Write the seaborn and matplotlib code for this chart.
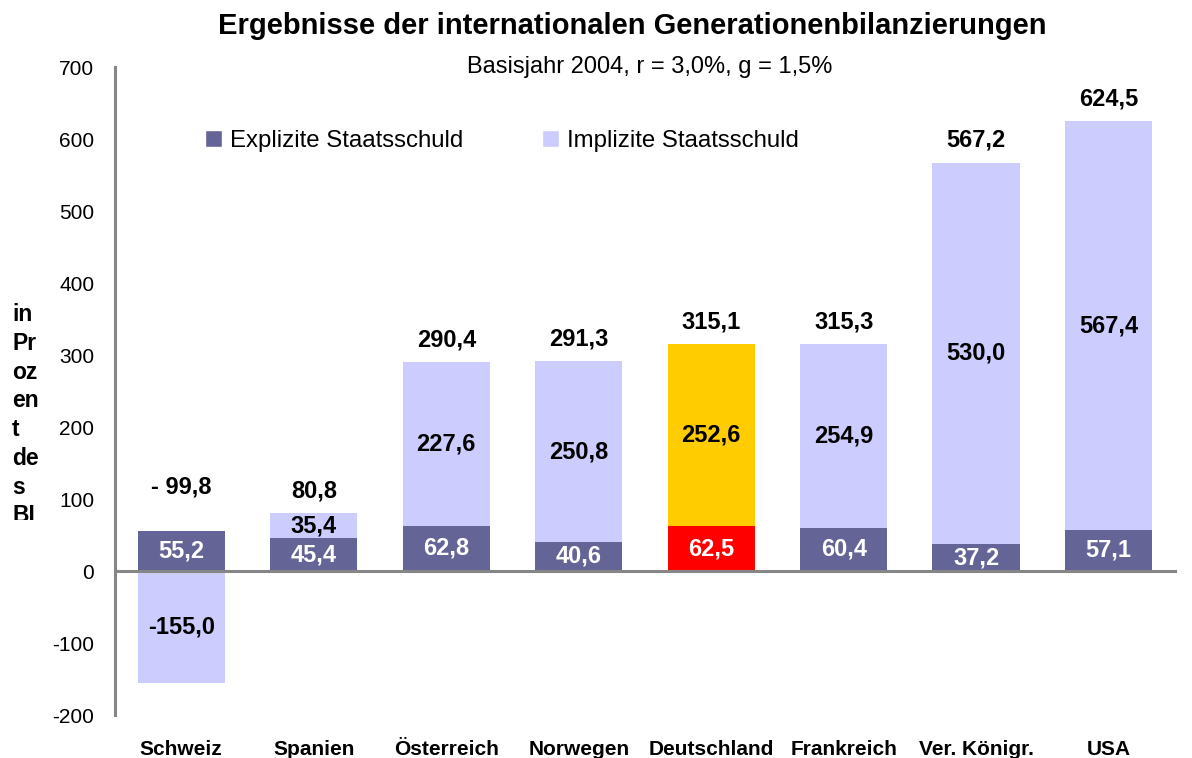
import pandas as pd
import matplotlib.pyplot as plt
import seaborn as sns
import numpy as np
from matplotlib.patches import Patch
from matplotlib.transforms import Bbox, TransformedBbox

# Daten
countries = ["Schweiz", "Spanien", "Österreich", "Norwegen", "Deutschland",
             "Frankreich", "Ver. Königr.", "USA"]
explicit = [55.2, 45.4, 62.8, 40.6, 62.5, 60.4, 37.2, 57.1]
implicit = [-155.0, 35.4, 227.6, 250.8, 252.6, 254.9, 530.0, 567.4]
total = [-99.8, 80.8, 290.4, 291.3, 315.1, 315.3, 567.2, 624.5]
yticks = list(range(-200, 701, 100))

c_expl = "#646496"
c_impl = "#ccccff"
expl_colors = {c: c_expl for c in countries}
impl_colors = {c: c_impl for c in countries}
expl_colors["Deutschland"] = "#ff0000"
impl_colors["Deutschland"] = "#ffcc00"

sns.set_style("white")
plt.rcParams['font.family'] = ['Liberation Sans', 'DejaVu Sans']
plt.rcParams['text.color'] = 'black'
plt.rcParams['xtick.labelcolor'] = 'black'
plt.rcParams['ytick.labelcolor'] = 'black'

df = pd.DataFrame({"land": countries, "explicit": explicit,
                   "implicit": implicit, "total": total})
# oberes Ende des impliziten Balkens (gestapelt, ausser bei negativen Werten)
df["impl_top"] = np.where(df["implicit"] > 0, df["total"], df["implicit"])

fig = plt.figure(figsize=(11.92, 7.58), dpi=100)
ax = fig.add_axes([0.0965, 0.0567, 0.8892, 0.8549])

sns.barplot(data=df, x="land", y="impl_top", hue="land", order=countries,
            palette=impl_colors, width=0.66, legend=False, ax=ax,
            saturation=1, edgecolor="none", linewidth=0)
sns.barplot(data=df, x="land", y="explicit", hue="land", order=countries,
            palette=expl_colors, width=0.66, legend=False, ax=ax,
            saturation=1, edgecolor="none", linewidth=0)

def fmt(v):
    s = f"{abs(v):.1f}".replace(".", ",")
    return s if v >= 0 else "-" + s

# Beschriftungen
for i, row in df.iterrows():
    ax.text(i, row["explicit"] / 2, fmt(row["explicit"]), ha="center",
            va="center", color="white", fontsize=17, fontweight="bold")
    if row["implicit"] > 0:
        yc = (row["explicit"] + row["total"]) / 2
    else:
        yc = row["implicit"] / 2
    ax.text(i, yc, fmt(row["implicit"]), ha="center", va="center",
            color="black", fontsize=17, fontweight="bold")
    if row["total"] >= 0:
        lab, ref, off = fmt(row["total"]), row["total"], 16
    else:
        lab, ref, off = "- " + fmt(-row["total"]), row["explicit"], 32
    ax.annotate(lab, (i, ref), xytext=(0, off), textcoords="offset points",
                ha="center", va="center", fontsize=17, fontweight="bold")

ax.set_xlim(-0.5, 7.5)
ax.set_ylim(-200, 700)
ax.set_yticks(yticks)
ax.set_yticklabels([str(t) for t in yticks], fontsize=15)
ax.set_xlabel("")
ax.set_ylabel("")

for s in ["top", "right"]:
    ax.spines[s].set_visible(False)
gray = "#868686"
ax.spines["left"].set_color(gray)
ax.spines["left"].set_linewidth(2.2)
ax.spines["bottom"].set_position(("data", 0))
ax.spines["bottom"].set_color(gray)
ax.spines["bottom"].set_linewidth(2.2)
ax.spines["bottom"].set_zorder(5)
ax.tick_params(axis="y", direction="out", length=6, width=2, color=gray, pad=9)
ax.set_xticks(range(len(countries)))
ax.set_xticklabels(countries, fontsize=15, fontweight="bold")
ax.tick_params(axis="x", which="major", length=0, pad=122)
ax.set_xticks(np.arange(0.5, 8, 1), minor=True)
ax.tick_params(axis="x", which="minor", direction="out", length=6, width=2,
               color=gray)

# Legende
handles = [Patch(facecolor=c_expl, label="Explizite Staatsschuld"),
           Patch(facecolor=c_impl, label="Implizite Staatsschuld")]
ax.legend(handles=handles, ncol=2, frameon=False, loc="center left",
          bbox_to_anchor=(0.085, 0.886), borderaxespad=0, borderpad=0,
          fontsize=17.3, handlelength=0.72, handleheight=0.72,
          handletextpad=0.3, columnspacing=3.3)

fig.text(0.53, 0.966, "Ergebnisse der internationalen Generationenbilanzierungen",
         ha="center", va="center", fontsize=21, fontweight="bold")
fig.text(0.545, 0.912, "Basisjahr 2004, r = 3,0%, g = 1,5%",
         ha="center", va="center", fontsize=17)

# y-Achsentitel (abgeschnitten wie im Original)
yl = fig.text(12 / 1192, 1 - 303 / 758, "in\nPr\noz\nen\nt\nde\ns\nBI",
              ha="left", va="top", fontsize=16.5, fontweight="bold",
              linespacing=1.32)
yl.set_clip_box(TransformedBbox(Bbox([[0, 1 - 520 / 758], [0.09, 1]]),
                                fig.transFigure))
yl.set_clip_on(True)

plt.savefig("out.png", dpi=100)
